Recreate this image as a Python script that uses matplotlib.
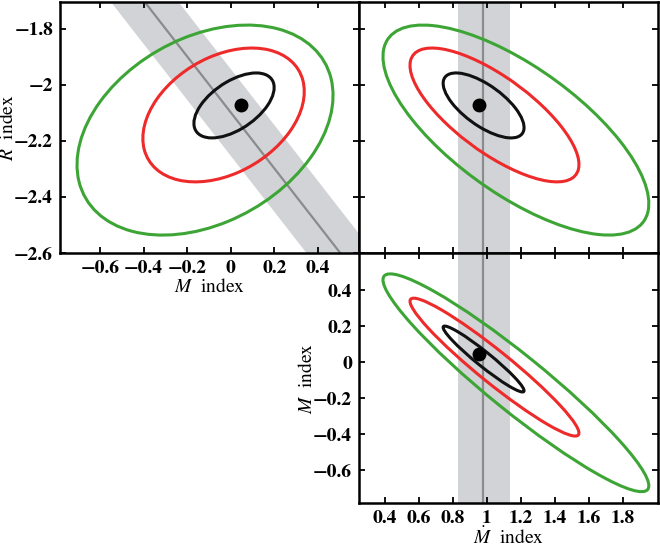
import numpy as np
import matplotlib
matplotlib.use("Agg")
import matplotlib.pyplot as plt
from matplotlib.patches import Ellipse
from matplotlib.ticker import FuncFormatter, FixedLocator

plt.rcParams['font.family'] = ['STIXGeneral', 'DejaVu Serif']
plt.rcParams['mathtext.fontset'] = 'stix'

# ---------------- data ----------------
levels = ["inner", "middle", "outer"]
level_colors = ["#111111", "#ee2a2a", "#3da535"]

# Panel A: x = M index, y = R index  (centre_x, centre_y, half-width x, half-width y, correlation)
mr_cx = [0.015, -0.033, -0.118]
mr_cy = [-2.073, -2.107, -2.161]
mr_wx = [0.184, 0.370, 0.587]
mr_wy = [0.116, 0.239, 0.375]
mr_rho = [0.55, 0.35, 0.33]

# Panel B: x = Mdot index, y = R index
dr_cx = [0.980, 1.044, 1.170]
dr_cy = [-2.073, -2.107, -2.161]
dr_wx = [0.238, 0.497, 0.782]
dr_wy = [0.116, 0.239, 0.375]
dr_rho = [-0.68, -0.74, -0.70]

# Panel C: x = Mdot index, y = M index
dm_cx = [0.980, 1.044, 1.170]
dm_cy = [0.017, -0.028, -0.115]
dm_wx = [0.238, 0.497, 0.782]
dm_wy = [0.183, 0.383, 0.605]
dm_rho = [-0.96, -0.955, -0.945]

# best-fit point
best_M = 0.046
best_R = -2.071
best_Mdot = 0.953

# constraints
rm_sum_center = -2.098     # R + M constraint
rm_sum_halfwidth = 0.155
mdot_center = 0.976
mdot_low, mdot_high = 0.829, 1.135

M_ticks = [-0.6, -0.4, -0.2, 0, 0.2, 0.4]
R_ticks = [-1.8, -2.0, -2.2, -2.4, -2.6]
Mdot_ticks = [0.4, 0.6, 0.8, 1.0, 1.2, 1.4, 1.6, 1.8]

M_lim_x = (-0.783, 0.588)
M_lim_y = (-0.783, 0.606)
R_lim = (-2.6, -1.7036)
Mdot_lim = (0.247, 2.006)

band_color = "#d2d3d6"
line_color = "#8a8b8e"

# ---------------- figure ----------------
W, H = 660, 548
fig = plt.figure(figsize=(W / 100, H / 100), dpi=100)

def rect(l, t, r, b):
    return [l / W, 1 - b / H, (r - l) / W, (b - t) / H]

axA = fig.add_axes(rect(60, 2, 359, 253))
axB = fig.add_axes(rect(359, 2, 658, 253))
axC = fig.add_axes(rect(359, 253, 658, 503))


def fmt(v, pos=None):
    s = "%g" % round(v, 3)
    return s.replace("-", "\u2212")


def style(ax, xt, yt, labx=True, laby=True):
    ax.xaxis.set_major_locator(FixedLocator(xt))
    ax.yaxis.set_major_locator(FixedLocator(yt))
    ax.xaxis.set_major_formatter(FuncFormatter(fmt))
    ax.yaxis.set_major_formatter(FuncFormatter(fmt))
    ax.tick_params(direction='in', length=4, width=1.3, top=True, right=True,
                   labelbottom=labx, labelleft=laby, labelsize=14, pad=5,
                   colors='black')
    for lab in ax.get_xticklabels() + ax.get_yticklabels():
        lab.set_fontweight('bold')
    for sp in ax.spines.values():
        sp.set_linewidth(1.8)


def draw_ellipses(ax, cx, cy, wx, wy, rho):
    for i in range(len(cx)):
        c = rho[i] * wx[i] * wy[i]
        cov = np.array([[wx[i] ** 2, c], [c, wy[i] ** 2]])
        vals, vecs = np.linalg.eigh(cov)
        order = np.argsort(vals)[::-1]
        vals, vecs = vals[order], vecs[:, order]
        ang = np.degrees(np.arctan2(vecs[1, 0], vecs[0, 0]))
        e = Ellipse((cx[i], cy[i]), 2 * np.sqrt(vals[0]), 2 * np.sqrt(vals[1]),
                    angle=ang, fill=False, edgecolor=level_colors[i], lw=2.2, zorder=3)
        ax.add_patch(e)


# Panel A
mgrid = np.array([-1.0, 1.0])
axA.fill_between(mgrid, rm_sum_center - rm_sum_halfwidth - mgrid,
                 rm_sum_center + rm_sum_halfwidth - mgrid, color=band_color, lw=0, zorder=1)
axA.plot(mgrid, rm_sum_center - mgrid, color=line_color, lw=1.6, zorder=2)
draw_ellipses(axA, mr_cx, mr_cy, mr_wx, mr_wy, mr_rho)
axA.plot([best_M], [best_R], 'o', color='black', ms=9, zorder=4)
axA.set_xlim(*M_lim_x)
axA.set_ylim(*R_lim)
style(axA, M_ticks, R_ticks)
axA.set_xlabel(r"$M$  index", fontsize=14)
axA.set_ylabel(r"$R$  index", fontsize=14)
axA.xaxis.set_label_coords(0.5, -0.1)
axA.yaxis.set_label_coords(-0.145, 0.5)

# Panel B
axB.axvspan(mdot_low, mdot_high, color=band_color, lw=0, zorder=1)
axB.axvline(mdot_center, color=line_color, lw=1.6, zorder=2)
draw_ellipses(axB, dr_cx, dr_cy, dr_wx, dr_wy, dr_rho)
axB.plot([best_Mdot], [best_R], 'o', color='black', ms=9, zorder=4)
axB.set_xlim(*Mdot_lim)
axB.set_ylim(*R_lim)
style(axB, Mdot_ticks, R_ticks, labx=False, laby=False)

# Panel C
axC.axvspan(mdot_low, mdot_high, color=band_color, lw=0, zorder=1)
axC.axvline(mdot_center, color=line_color, lw=1.6, zorder=2)
draw_ellipses(axC, dm_cx, dm_cy, dm_wx, dm_wy, dm_rho)
axC.plot([best_Mdot], [best_M], 'o', color='black', ms=9, zorder=4)
axC.set_xlim(*Mdot_lim)
axC.set_ylim(*M_lim_y)
style(axC, Mdot_ticks, M_ticks)
axC.set_xlabel(r"$\dot{M}$  index", fontsize=14)
axC.set_ylabel(r"$M$  index", fontsize=14)
axC.xaxis.set_label_coords(0.5, -0.095)
axC.yaxis.set_label_coords(-0.145, 0.5)

fig.savefig("out.png", dpi=100)
